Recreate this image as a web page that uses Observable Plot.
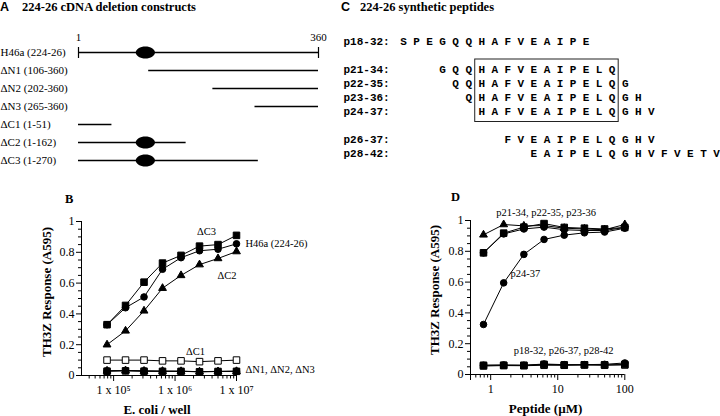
<!DOCTYPE html>
<html><head><meta charset="utf-8">
<script src="https://cdn.jsdelivr.net/npm/d3@7"></script>
<script src="https://cdn.jsdelivr.net/npm/@observablehq/plot@0.6"></script>
<style>
body{margin:0;background:#fff}
#fig{position:relative;width:720px;height:416px;overflow:hidden;font-family:"Liberation Serif",serif;color:#000;background:#fff}
#fig svg{position:absolute;overflow:visible}
.t{position:absolute;white-space:nowrap;line-height:1}
</style></head><body><div id="fig"></div>
<script>
// ================= DATA =================
// Panel A: deletion constructs (amino-acid ranges)
const constructs = ["H46a (224-26)","ΔN1 (106-360)","ΔN2 (202-360)","ΔN3 (265-360)","ΔC1 (1-51)","ΔC2 (1-162)","ΔC3 (1-270)"];
const constructFrom = [1,106,202,265,1,1,1];
const constructTo   = [360,360,360,360,51,162,270];
const proteinEnds = [1,360];
const ovalMotifResidue = 101;

// Panel B: E. coli / well vs TH3Z response
const cellsPerWell = [78125,156250,312500,625000,1250000,2500000,5000000,10000000];
const bDeltaC3 = [0.33,0.455,0.606,0.73,0.78,0.84,0.85,0.91];
const bH46a    = [0.33,0.44,0.51,0.69,0.765,0.81,0.82,0.855];
const bDeltaC2 = [0.20,0.29,0.42,0.567,0.65,0.72,0.76,0.805];
const bDeltaC1 = [0.10,0.10,0.10,0.095,0.095,0.09,0.095,0.10];
const bDeltaN1 = [0.030,0.033,0.030,0.028,0.028,0.025,0.027,0.028];
const bDeltaN2 = [0.028,0.030,0.028,0.027,0.027,0.024,0.026,0.027];
const bDeltaN3 = [0.030,0.032,0.029,0.028,0.027,0.025,0.026,0.027];
const bYTicks = [0,0.2,0.4,0.6,0.8,1];
const bXTicks = [1e5,1e6,1e7];

// Panel C: synthetic peptides
const sequenceStart = 18;
const sequence = "SPEGQQHAFVEAIPELQGHVFVETV"; // residues 18-42
const peptides = ["p18-32","p21-34","p22-35","p23-36","p24-37","p26-37","p28-42"];
const peptideFrom = [18,21,22,23,24,26,28];
const peptideTo   = [32,34,35,36,37,37,42];
const corePeptides = ["p21-34","p24-37"];
const coreFrom = 24, coreTo = 34;

// Panel D: peptide concentration vs TH3Z response
const peptideConc = [0.78125,1.5625,3.125,6.25,12.5,25,50,100];
const dP21 = [0.907,0.974,0.965,0.967,0.95,0.945,0.94,0.974];
const dP22 = [0.79,0.918,0.957,0.98,0.955,0.95,0.945,0.955];
const dP23 = [0.79,0.913,0.945,0.957,0.94,0.935,0.935,0.955];
const dP24 = [0.325,0.595,0.78,0.877,0.905,0.92,0.925,0.95];
const dP18 = [0.060,0.060,0.060,0.066,0.062,0.063,0.063,0.065];
const dP26 = [0.055,0.058,0.057,0.060,0.060,0.062,0.060,0.062];
const dP28 = [0.060,0.062,0.060,0.068,0.064,0.064,0.066,0.075];
const dYTicks = [0,0.2,0.4,0.6,0.8,1];
const dXTicks = [0.5,1,10,100];

// ================= DRAWING =================
const fig = document.getElementById("fig");
const serif = "Liberation Serif";
function place(svg, left, top){ svg.style.left = left+"px"; svg.style.top = top+"px"; fig.appendChild(svg); }
function label(txt, x, y, css, anchor, rotate){
  const d = document.createElement("div");
  d.className = "t"; d.textContent = txt;
  Object.assign(d.style, css);
  d.style.left = x+"px"; d.style.top = y+"px";
  const tx = anchor==="middle" ? "-50%" : anchor==="end" ? "-100%" : "0";
  d.style.transform = rotate ? "translate(-50%,-50%) rotate(-90deg)" : `translate(${tx},-50%)`;
  fig.appendChild(d);
}
const baseStyle = {fontFamily: serif, fontSize: "12px", background: "transparent", color: "black", overflow: "visible"};

// ---- Panel A ----
const ovalSymbol = {draw(ctx, size){
  const r = Math.sqrt(size/Math.PI), rx = r*1.6, ry = r, k = 0.5523;
  ctx.moveTo(rx,0);
  ctx.bezierCurveTo(rx,k*ry,k*rx,ry,0,ry);
  ctx.bezierCurveTo(-k*rx,ry,-rx,k*ry,-rx,0);
  ctx.bezierCurveTo(-rx,-k*ry,-k*rx,-ry,0,-ry);
  ctx.bezierCurveTo(k*rx,-ry,rx,-k*ry,rx,0);
  ctx.closePath();
}};
const barSymbol = {draw(ctx, size){ const r = Math.sqrt(size/Math.PI); ctx.moveTo(0,-r); ctx.lineTo(0,r); }};
const consData = constructs.map((name,i)=>({name, from: constructFrom[i], to: constructTo[i]}));
const fullLength = consData.filter(d => d.from === proteinEnds[0] && d.to === proteinEnds[1]);
const withMotif = consData.filter(d => d.from <= ovalMotifResidue && d.to >= ovalMotifResidue);
const plotA = Plot.plot({
  width: 340, height: 175, marginLeft: 78, marginRight: 22, marginTop: 50, marginBottom: 14,
  x: {domain: proteinEnds, axis: null},
  y: {type: "point", domain: constructs, padding: 0, axis: null},
  style: baseStyle,
  marks: [
    Plot.ruleY(consData, {y: "name", x1: "from", x2: "to", stroke: "black", strokeWidth: 1.3}),
    Plot.dot(fullLength.flatMap(d => proteinEnds.map(e => ({name: d.name, x: e}))), {x: "x", y: "name", symbol: barSymbol, r: 5.5, stroke: "black", strokeWidth: 1.2}),
    Plot.dot(withMotif, {x: () => ovalMotifResidue, y: "name", symbol: ovalSymbol, r: 6, fill: "black"}),
    Plot.text(proteinEnds, {x: d => d, frameAnchor: "top", dy: -17, text: d => String(d), fontSize: 11}),
    Plot.text(consData, {y: "name", text: "name", frameAnchor: "left", dx: -78, textAnchor: "start", fontSize: 11})
  ]
});
place(plotA, 0, 0);

// ---- Panel C ----
const letters = peptides.flatMap((p,i) => d3.range(peptideFrom[i], peptideTo[i]+1).map(res => ({pep: p, res, letter: sequence[res - sequenceStart]})));
const cDomain = [peptides[0], "gap1", ...peptides.slice(1,5), "gap2", ...peptides.slice(5)];
const mono = {fontFamily: "Liberation Mono", fontWeight: "bold", fontSize: 11};
const plotC = Plot.plot({
  width: 380, height: 175, marginLeft: 63, marginRight: 4, marginTop: 37.5, marginBottom: 17.6,
  x: {domain: [sequenceStart, sequenceStart + sequence.length - 1], axis: null},
  y: {type: "point", domain: cDomain, padding: 0, axis: null},
  style: baseStyle,
  marks: [
    Plot.rect([{x1: coreFrom - 0.5, x2: coreTo + 0.5, y1: corePeptides[0], y2: corePeptides[1]}],
      {x1: "x1", x2: "x2", y1: "y1", y2: "y2", fill: "none", stroke: "#222", strokeWidth: 1, insetTop: -10, insetBottom: -10.5}),
    Plot.text(letters, {x: "res", y: "pep", text: "letter", ...mono}),
    Plot.text(peptides, {y: d => d, text: d => d + ":", frameAnchor: "left", dx: -60, textAnchor: "start", ...mono})
  ]
});
place(plotC, 340, 0);

// ---- shared for B, D ----
const yMinor = d3.range(1,20).filter(i => i % 4 !== 0).map(i => i/20);
function seriesMarks(list, xs){
  const m = [];
  for (const s of list){
    const rows = xs.map((x,i) => ({x, y: s.values[i]}));
    m.push(Plot.line(rows, {x: "x", y: "y", stroke: "black", strokeWidth: 1}));
    const r = s.symbol === "triangle" ? 2.9 : s.symbol === "square" ? 3.7 : 3.3;
    m.push(Plot.dot(rows, {x: "x", y: "y", symbol: s.symbol, r, fill: s.open ? "white" : "black", stroke: "black", strokeWidth: 1}));
  }
  return m;
}
function labelMarks(list, xs){
  return list.map(l => Plot.text([{x: xs[l.i], y: l.values[l.i]}], {x: "x", y: "y", text: () => l.text, dx: l.dx, dy: l.dy, textAnchor: l.anchor, fontSize: 10.5}));
}
function axesMarks(yTicks, xTicks, xMinor, xFmt, xMin){
  return [
    Plot.ruleX([xMin], {stroke: "black"}),
    Plot.ruleY([0], {stroke: "black"}),
    Plot.axisY({ticks: yTicks, tickSize: 5, tickPadding: 2, tickFormat: d3.format("~g"), label: null}),
    Plot.axisY({ticks: yMinor, tickSize: 3, tickFormat: () => "", label: null}),
    Plot.axisX({ticks: xTicks, tickSize: 6, tickPadding: 4, tickFormat: xFmt, label: null}),
    Plot.axisX({ticks: xMinor, tickSize: 3.5, tickFormat: () => "", label: null})
  ];
}

// ---- Panel B ----
const sup = {5: "⁵", 6: "⁶", 7: "⁷"};
const bXMinor = [1e4,1e5,1e6].flatMap(p => d3.range(2,10).map(m => m*p)).filter(v => v > 3e4 && v < 1e7);
const bSeries = [
  {values: bDeltaN1, symbol: "circle"}, {values: bDeltaN2, symbol: "square"}, {values: bDeltaN3, symbol: "triangle"},
  {values: bDeltaC1, symbol: "square", open: true},
  {values: bDeltaC2, symbol: "triangle"}, {values: bH46a, symbol: "circle"}, {values: bDeltaC3, symbol: "square"}
];
const bLabels = [
  {values: bDeltaC3, i: 5, text: "ΔC3", dx: 7, dy: -14.6, anchor: "middle"},
  {values: bH46a, i: 7, text: "H46a (224-26)", dx: 9, dy: 0, anchor: "start"},
  {values: bDeltaC2, i: 6, text: "ΔC2", dx: 9, dy: 17, anchor: "middle"},
  {values: bDeltaC1, i: 5, text: "ΔC1", dx: -4, dy: -10.5, anchor: "middle"},
  {values: bDeltaN1, i: 7, text: "ΔN1, ΔN2, ΔN3", dx: 9, dy: -1.5, anchor: "start"}
];
const plotB = Plot.plot({
  width: 340, height: 226, marginLeft: 81, marginRight: 104, marginTop: 31, marginBottom: 41,
  x: {type: "log", domain: [3e4, 1e7]},
  y: {domain: [0, 1]},
  style: baseStyle,
  marks: [
    ...axesMarks(bYTicks, bXTicks, bXMinor, d => "1 x 10" + sup[Math.round(Math.log10(d))], 3e4),
    ...seriesMarks(bSeries, cellsPerWell),
    ...labelMarks(bLabels, cellsPerWell)
  ]
});
place(plotB, 0, 190);

// ---- Panel D ----
const dXMinor = [0.1,1,10].flatMap(p => d3.range(2,10).map(m => m*p)).filter(v => v > 0.5 && v < 100);
const dSeries = [
  {values: dP26, symbol: "square", open: true}, {values: dP18, symbol: "square"}, {values: dP28, symbol: "circle"},
  {values: dP24, symbol: "circle"},
  {values: dP23, symbol: "circle"}, {values: dP22, symbol: "square"}, {values: dP21, symbol: "triangle"}
];
const dLabels = [
  {values: dP22, i: 3, text: "p21-34, p22-35, p23-36", dx: 2, dy: -11.4, anchor: "middle"},
  {values: dP24, i: 1, text: "p24-37", dx: 6.7, dy: -9.7, anchor: "start"},
  {values: dP18, i: 4, text: "p18-32, p26-37, p28-42", dx: -0.7, dy: -14.5, anchor: "middle"}
];
const plotD = Plot.plot({
  width: 340, height: 226, marginLeft: 90, marginRight: 95.7, marginTop: 30, marginBottom: 42,
  x: {type: "log", domain: [0.5, 100]},
  y: {domain: [0, 1]},
  style: baseStyle,
  marks: [
    ...axesMarks(dYTicks, dXTicks, dXMinor, d3.format("~g"), 0.5),
    ...seriesMarks(dSeries, peptideConc),
    ...labelMarks(dLabels, peptideConc)
  ]
});
place(plotD, 380, 190);

// ---- titles and axis titles ----
const sansB = {fontFamily: "Liberation Sans", fontWeight: "bold", fontSize: "12.5px"};
const serifB = {fontFamily: serif, fontWeight: "bold", fontSize: "12.5px"};
const axisT = {fontFamily: serif, fontWeight: "bold", fontSize: "13px"};
label("A", 0, 7, sansB, "start");
label("224-26 cDNA deletion constructs", 22, 7, serifB, "start");
label("C", 341, 7, sansB, "start");
label("224-26 synthetic peptides", 360, 7, serifB, "start");
label("B", 65, 199, serifB, "start");
label("D", 451, 197, serifB, "start");
label("TH3Z Response (A595)", 46, 292, axisT, "middle", true);
label("E. coli / well", 157, 409, axisT, "middle");
label("TH3Z Response (A595)", 434, 290, axisT, "middle", true);
label("Peptide (µM)", 545.5, 408, axisT, "middle");
</script></body></html>
